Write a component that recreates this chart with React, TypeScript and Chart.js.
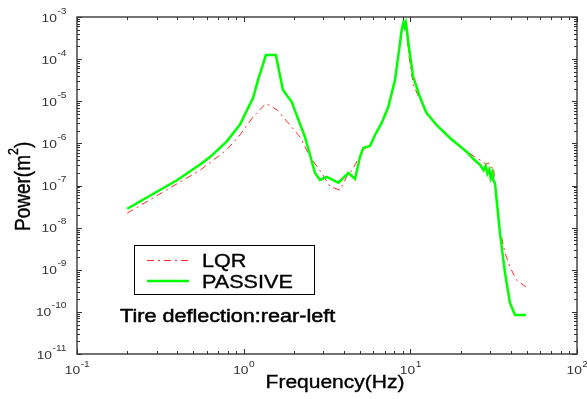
import React, { useEffect, useRef } from "react";
import { Chart, registerables } from "chart.js";

Chart.register(...registerables);

// ---- data ----
const passiveFreq = [0.2, 0.4, 0.55, 0.63, 0.79, 0.95, 1.14, 1.22, 1.36, 1.56, 1.72, 1.94, 2.33, 2.68, 2.87, 3.15, 3.7, 4.25, 4.66, 4.99, 5.22, 5.73, 6.14, 6.73, 7.38, 8.09, 8.4, 8.67, 8.87, 9.1, 9.25, 9.4, 9.6, 9.73, 10.4, 11.4, 12.5, 14.4, 17.3, 21.8, 24, 26.2, 27.5, 28.3, 29, 29.8, 30.3, 31, 31.5, 32.2, 34.5, 37, 39.6, 42.5, 49.4];
const passivePower = [2.8e-8, 1.35e-7, 3.2e-7, 4.8e-7, 1.1e-6, 2.8e-6, 1.2e-5, 3.2e-5, 1.25e-4, 1.25e-4, 1.85e-5, 9.7e-6, 1.44e-6, 1.98e-7, 1.35e-7, 1.6e-7, 1.17e-7, 1.98e-7, 1.43e-7, 4.8e-7, 7.8e-7, 8.7e-7, 1.58e-6, 3.05e-6, 7.4e-6, 3.2e-5, 9.5e-5, 2.4e-4, 4.9e-4, 7.6e-4, 5.8e-4, 7.3e-4, 4.0e-4, 2.4e-4, 3.8e-5, 1.28e-5, 5.3e-6, 2.7e-6, 1.34e-6, 6.3e-7, 4.2e-7, 3.1e-7, 2.3e-7, 2.9e-7, 1.9e-7, 2.4e-7, 1.5e-7, 2.0e-7, 1.3e-7, 1.13e-7, 7.4e-9, 8.4e-10, 1.63e-10, 8.4e-11, 8.4e-11];

const lqrFreq = [0.2, 0.36, 0.55, 0.79, 0.95, 1.14, 1.36, 1.59, 1.9, 2.18, 2.5, 2.94, 3.3, 3.78, 4.15, 4.35, 4.66, 5.2, 5.73, 6.14, 6.73, 7.38, 8.09, 8.67, 9.0, 9.3, 9.5, 9.73, 10.4, 11.4, 12.5, 14.4, 17.3, 21.8, 25, 27, 28.5, 29.5, 30.5, 31.5, 32.2, 34.5, 37, 39.6, 43.4, 49.4];
const lqrPower = [2.2e-8, 8.7e-8, 2.33e-7, 7.0e-7, 1.58e-6, 4.3e-6, 8.9e-6, 6.2e-6, 2.7e-6, 1.42e-6, 4.8e-7, 1.98e-7, 9.4e-8, 7.8e-8, 1.62e-7, 1.98e-7, 3.07e-7, 7.0e-7, 9.0e-7, 1.6e-6, 3.1e-6, 7.6e-6, 3.3e-5, 2.3e-4, 6.0e-4, 6.5e-4, 4.0e-4, 1.5e-4, 2.5e-5, 1.1e-5, 5.0e-6, 2.7e-6, 1.4e-6, 6.6e-7, 4.4e-7, 3.8e-7, 3.2e-7, 3.4e-7, 2.6e-7, 2.8e-7, 1.15e-7, 8.8e-9, 2.5e-9, 1.16e-9, 5.7e-10, 3.9e-10];

const xExponents = [-1, 0, 1, 2];
const yExponents = [-11, -10, -9, -8, -7, -6, -5, -4, -3];
const seriesLabels = ["LQR", "PASSIVE"];
const annotationText = "Tire deflection:rear-left";
const xTitleText = "Frequency(Hz)";
const yTitleParts = ["Power(m", "2", ")"];

const FONT = "'Liberation Sans', Arial, sans-serif";
const SX = 1.2; // horizontal stretch of the reference image
const RED = "rgb(255,40,40)";
const GREEN = "rgb(0,255,0)";
const RED_DASH = [7, 4, 2, 4];

function sText(ctx: CanvasRenderingContext2D, text: string, x: number, y: number, size: number, align: string, color: string, heavy = 0) {
  ctx.save();
  ctx.font = `${size}px ${FONT}`;
  const w = ctx.measureText(text).width * SX;
  const x0 = align === "center" ? x - w / 2 : align === "right" ? x - w : x;
  ctx.translate(x0, y);
  ctx.scale(SX, 1);
  ctx.textAlign = "left";
  ctx.textBaseline = "alphabetic";
  ctx.fillStyle = color;
  ctx.fillText(text, 0, 0);
  if (heavy > 0) {
    ctx.strokeStyle = color;
    ctx.lineWidth = heavy;
    ctx.strokeText(text, 0, 0);
  }
  ctx.restore();
  return w;
}

function measure(ctx: CanvasRenderingContext2D, text: string, size: number) {
  ctx.save();
  ctx.font = `${size}px ${FONT}`;
  const w = ctx.measureText(text).width * SX;
  ctx.restore();
  return w;
}

const decorPlugin = {
  id: "decor",
  afterDraw(chart: any) {
    const ctx: CanvasRenderingContext2D = chart.ctx;
    const { left, right, top, bottom } = chart.chartArea;
    const xs = chart.scales.x;
    const ys = chart.scales.y;
    ctx.save();

    // frame
    ctx.strokeStyle = "#454545";
    ctx.lineWidth = 1.5;
    ctx.strokeRect(left, top, right - left, bottom - top);

    // ticks (inside, mirrored)
    ctx.lineWidth = 1;
    ctx.strokeStyle = "#303030";
    ctx.beginPath();
    for (let i = 0; i < xExponents.length; i++) {
      const e = xExponents[i];
      for (let k = 1; k <= 9; k++) {
        if (i === xExponents.length - 1 && k > 1) break;
        const px = Math.round(xs.getPixelForValue(k * Math.pow(10, e))) + 0.5;
        const len = k === 1 ? 5 : 3;
        ctx.moveTo(px, bottom);
        ctx.lineTo(px, bottom - len);
        ctx.moveTo(px, top);
        ctx.lineTo(px, top + len);
      }
    }
    for (let i = 0; i < yExponents.length; i++) {
      const e = yExponents[i];
      for (let k = 1; k <= 9; k++) {
        if (i === yExponents.length - 1 && k > 1) break;
        const py = Math.round(ys.getPixelForValue(k * Math.pow(10, e))) + 0.5;
        const len = k === 1 ? 5 : 3;
        ctx.moveTo(left, py);
        ctx.lineTo(left + len, py);
        ctx.moveTo(right, py);
        ctx.lineTo(right - len, py);
      }
    }
    ctx.stroke();

    // tick labels
    const lab = "#333333";
    for (const e of xExponents) {
      const px = xs.getPixelForValue(Math.pow(10, e));
      const w1 = measure(ctx, "10", 11.5);
      const w2 = measure(ctx, String(e), 8.5);
      const x0 = px - (w1 + w2) / 2;
      sText(ctx, "10", x0, bottom + 19.5, 11.5, "left", lab);
      sText(ctx, String(e), x0 + w1 + 0.5, bottom + 13, 8.5, "left", lab);
    }
    for (const e of yExponents) {
      const py = ys.getPixelForValue(Math.pow(10, e));
      const w1 = measure(ctx, "10", 11.5);
      const w2 = measure(ctx, String(e), 8.5);
      const x0 = left - 11 - (w1 + w2);
      sText(ctx, "10", x0, py + 4.5, 11.5, "left", lab);
      sText(ctx, String(e), x0 + w1 + 0.5, py - 3.5, 8.5, "left", lab);
    }

    // x title
    sText(ctx, xTitleText, (left + right) / 2 + 8, bottom + 33.5, 17.5, "center", "#000", 0.35);

    // y title (rotated)
    ctx.save();
    ctx.translate(30, 231);
    ctx.scale(SX, 1);
    ctx.rotate(-Math.PI / 2);
    ctx.fillStyle = "#000";
    ctx.strokeStyle = "#000";
    ctx.lineWidth = 0.35;
    ctx.textBaseline = "alphabetic";
    ctx.textAlign = "left";
    ctx.font = `19px ${FONT}`;
    ctx.fillText(yTitleParts[0], 0, 0);
    ctx.strokeText(yTitleParts[0], 0, 0);
    let w = ctx.measureText(yTitleParts[0]).width;
    ctx.font = `12.5px ${FONT}`;
    ctx.fillText(yTitleParts[1], w, -10);
    ctx.strokeText(yTitleParts[1], w, -10);
    w += ctx.measureText(yTitleParts[1]).width;
    ctx.font = `19px ${FONT}`;
    ctx.fillText(yTitleParts[2], w, 0);
    ctx.strokeText(yTitleParts[2], w, 0);
    ctx.restore();

    // legend box
    ctx.fillStyle = "#fff";
    ctx.fillRect(134.5, 245.5, 180, 49);
    ctx.strokeStyle = "#000";
    ctx.lineWidth = 1;
    ctx.strokeRect(134.5, 245.5, 180, 49);
    ctx.save();
    ctx.strokeStyle = RED;
    ctx.lineWidth = 1;
    ctx.setLineDash(RED_DASH);
    ctx.beginPath();
    ctx.moveTo(147, 260.5);
    ctx.lineTo(189, 260.5);
    ctx.stroke();
    ctx.restore();
    ctx.strokeStyle = GREEN;
    ctx.lineWidth = 2.5;
    ctx.beginPath();
    ctx.moveTo(147, 281);
    ctx.lineTo(189, 281);
    ctx.stroke();
    sText(ctx, seriesLabels[0], 202, 266.5, 18, "left", "#000", 0.35);
    sText(ctx, seriesLabels[1], 202, 287.5, 18, "left", "#000", 0.35);

    // annotation
    sText(ctx, annotationText, 120, 322, 18, "left", "#000", 0.5);

    ctx.restore();
  },
};

export default function App() {
  const ref = useRef<HTMLCanvasElement | null>(null);
  useEffect(() => {
    document.body.style.margin = "0";
    const canvas = ref.current;
    if (!canvas) return;
    const chart = new Chart(canvas, {
      type: "line",
      data: {
        datasets: [
          {
            label: seriesLabels[1],
            data: passiveFreq.map((f, i) => ({ x: f, y: passivePower[i] })),
            borderColor: GREEN,
            borderWidth: 2.5,
            pointRadius: 0,
            tension: 0,
            fill: false,
          },
          {
            label: seriesLabels[0],
            data: lqrFreq.map((f, i) => ({ x: f, y: lqrPower[i] })),
            borderColor: RED,
            borderWidth: 1,
            borderDash: RED_DASH,
            pointRadius: 0,
            tension: 0,
            fill: false,
          },
        ],
      },
      options: {
        animation: false,
        responsive: false,
        devicePixelRatio: 1,
        layout: { padding: { left: 77, top: 17, right: 10, bottom: 45 } },
        plugins: { legend: { display: false }, tooltip: { enabled: false }, title: { display: false } },
        scales: {
          x: { type: "logarithmic", min: 0.1, max: 100, display: false },
          y: { type: "logarithmic", min: 1e-11, max: 1e-3, display: false },
        },
      },
      plugins: [decorPlugin],
    });
    return () => chart.destroy();
  }, []);
  return (
    <div style={{ position: "absolute", left: 0, top: 0, width: 587, height: 399, background: "#fff" }}>
      <canvas ref={ref} width={587} height={399} style={{ display: "block" }} />
    </div>
  );
}
